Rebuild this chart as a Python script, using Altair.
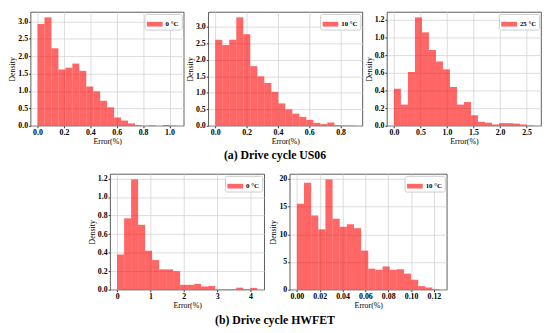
import altair as alt
import numpy as np
import pandas as pd

SERIF = "Liberation Serif"
BAR = "#ff0000"

# ---- densities (20 equal-width bins each) ----
us06_0c_density = [2.93, 3.12, 2.23, 1.62, 1.67, 1.79, 1.58, 1.13, 0.99, 0.72,
                   0.53, 0.24, 0.15, 0.07, 0.02, 0.005, 0.015, 0.0, 0.025, 0.01]
us06_0c_range = [0.0, 1.055]

us06_10c_density = [2.61, 2.45, 2.61, 3.29, 2.78, 1.81, 1.50, 1.30, 1.03, 0.68,
                    0.50, 0.37, 0.27, 0.18, 0.09, 0.05, 0.10, 0.02, 0.01, 0.01]
us06_10c_range = [0.0, 0.894]

us06_25c_density = [0.42, 0.24, 0.61, 1.23, 1.06, 0.86, 0.73, 0.64, 0.44, 0.24,
                    0.27, 0.12, 0.045, 0.035, 0.015, 0.03, 0.03, 0.025, 0.015, 0.005]
us06_25c_range = [0.0, 2.64]

hwfet_0c_density = [0.38, 0.77, 1.19, 0.70, 0.42, 0.32, 0.22, 0.22, 0.20, 0.053,
                    0.053, 0.063, 0.035, 0.04, 0.005, 0.005, 0.005, 0.022, 0.006, 0.02]
hwfet_0c_range = [0.0, 4.2]

hwfet_10c_density = [15.5, 19.3, 13.4, 10.9, 19.9, 12.8, 11.35, 11.8, 11.1, 7.06,
                     3.8, 3.6, 4.2, 3.6, 3.7, 2.9, 1.8, 0.65, 0.4, 0.1]
hwfet_10c_range = [0.0, 0.125]

labels = ["0 °C", "10 °C", "25 °C", "0 °C", "10 °C"]
captions = ["(a) Drive cycle US06", "(b) Drive cycle HWFET"]

x_ticks = [[0.0, 0.2, 0.4, 0.6, 0.8, 1.0],
           [0.0, 0.2, 0.4, 0.6, 0.8],
           [0.0, 0.5, 1.0, 1.5, 2.0, 2.5],
           [0, 1, 2, 3, 4],
           [0.0, 0.02, 0.04, 0.06, 0.08, 0.10, 0.12]]
y_ticks = [[0.0, 0.5, 1.0, 1.5, 2.0, 2.5, 3.0],
           [0.0, 0.5, 1.0, 1.5, 2.0, 2.5, 3.0],
           [0.0, 0.2, 0.4, 0.6, 0.8, 1.0, 1.2],
           [0.0, 0.2, 0.4, 0.6, 0.8, 1.0, 1.2],
           [0, 5, 10, 15, 20]]
x_fmt = [".1f", ".1f", ".1f", "d", ".2f"]
y_fmt = [".1f", ".1f", ".1f", ".1f", "d"]


def domain_with_margin(rng, top):
    span = rng[1] - rng[0]
    return [rng[0] - 0.05 * span, rng[1] + 0.05 * span], [0, top * 1.05]


def panel(density, rng, label, xt, yt, xf, yf, w, h):
    edges = np.linspace(rng[0], rng[1], len(density) + 1)
    df = pd.DataFrame({"lo": edges[:-1], "hi": edges[1:],
                       "density": density, "series": label})
    xdom, ydom = domain_with_margin(rng, max(density))
    return alt.Chart(df).mark_rect(opacity=0.6).encode(
        x=alt.X("lo:Q", scale=alt.Scale(domain=xdom, nice=False, zero=False),
                axis=alt.Axis(values=xt, format=xf, title="Error(%)", grid=True)),
        x2="hi:Q",
        y=alt.Y("density:Q", scale=alt.Scale(domain=ydom, nice=False),
                axis=alt.Axis(values=yt, format=yf, title="Density", grid=True)),
        y2=alt.datum(0),
        color=alt.Color("series:N",
                        scale=alt.Scale(domain=[label], range=[BAR]),
                        legend=alt.Legend(title=None, orient="top-right", offset=2,
                                          padding=2.5, fillColor="white",
                                          strokeColor="#cccccc", cornerRadius=2,
                                          symbolType="M-1,-0.3H1V0.3H-1Z",
                                          symbolSize=256, symbolOpacity=0.6,
                                          symbolStrokeWidth=0,
                                          labelFont=SERIF, labelFontSize=7,
                                          labelFontWeight="bold", labelOffset=3,
                                          labelColor="black")),
    ).properties(width=w, height=h)


p1 = panel(us06_0c_density, us06_0c_range, labels[0], x_ticks[0], y_ticks[0], x_fmt[0], y_fmt[0], 156, 116)
p2 = panel(us06_10c_density, us06_10c_range, labels[1], x_ticks[1], y_ticks[1], x_fmt[1], y_fmt[1], 157, 116)
p3 = panel(us06_25c_density, us06_25c_range, labels[2], x_ticks[2], y_ticks[2], x_fmt[2], y_fmt[2], 157, 116)
p4 = panel(hwfet_0c_density, hwfet_0c_range, labels[3], x_ticks[3], y_ticks[3], x_fmt[3], y_fmt[3], 157, 118)
p5 = panel(hwfet_10c_density, hwfet_10c_range, labels[4], x_ticks[4], y_ticks[4], x_fmt[4], y_fmt[4], 160, 118)

# invisible spacer that pushes the second row to its place
spacer = alt.Chart(pd.DataFrame({"v": [0]})).mark_point(opacity=0).encode(
    x=alt.X("v:Q", axis=None), y=alt.Y("v:Q", axis=None)
).properties(width=54, height=118, view=alt.ViewBackground(strokeOpacity=0))


def cap(text, offset=4):
    return alt.TitleParams(text, orient="bottom", anchor="middle", font=SERIF,
                           fontSize=12, fontWeight="bold", color="black", offset=offset)


row1 = alt.hconcat(p1, p2, p3, spacing=1, title=cap(captions[0])).resolve_scale(
    color="independent", x="independent", y="independent").resolve_legend(color="independent")
row2 = alt.hconcat(spacer, p4, p5, spacing=4).resolve_scale(
    color="independent", x="independent", y="independent").resolve_legend(color="independent")
row2 = alt.vconcat(row2, alt.Chart(pd.DataFrame({"t": [captions[1]]})).mark_text(
    font=SERIF, fontSize=12, fontWeight="bold", color="black").encode(
    text="t:N", x=alt.value(249), y=alt.value(6)).properties(
    width=1, height=12, view=alt.ViewBackground(strokeOpacity=0)), spacing=4)

chart = alt.vconcat(row1, row2, spacing=12, padding=0).resolve_scale(
    color="independent", x="independent", y="independent").resolve_legend(
    color="independent").configure_view(stroke="#333333", strokeWidth=0.8).configure_axis(
    labelFont=SERIF, labelFontSize=8, labelFontWeight="bold", labelColor="black",
    titleFont=SERIF, titleFontSize=8, titleFontWeight="normal", titleColor="black",
    grid=True, gridColor="#d4d4d4", gridWidth=0.8, domain=False,
    tickColor="#333333", tickSize=2, labelPadding=1, titlePadding=1)

chart.save("out.html", embed_options={"renderer": "svg", "actions": False})
